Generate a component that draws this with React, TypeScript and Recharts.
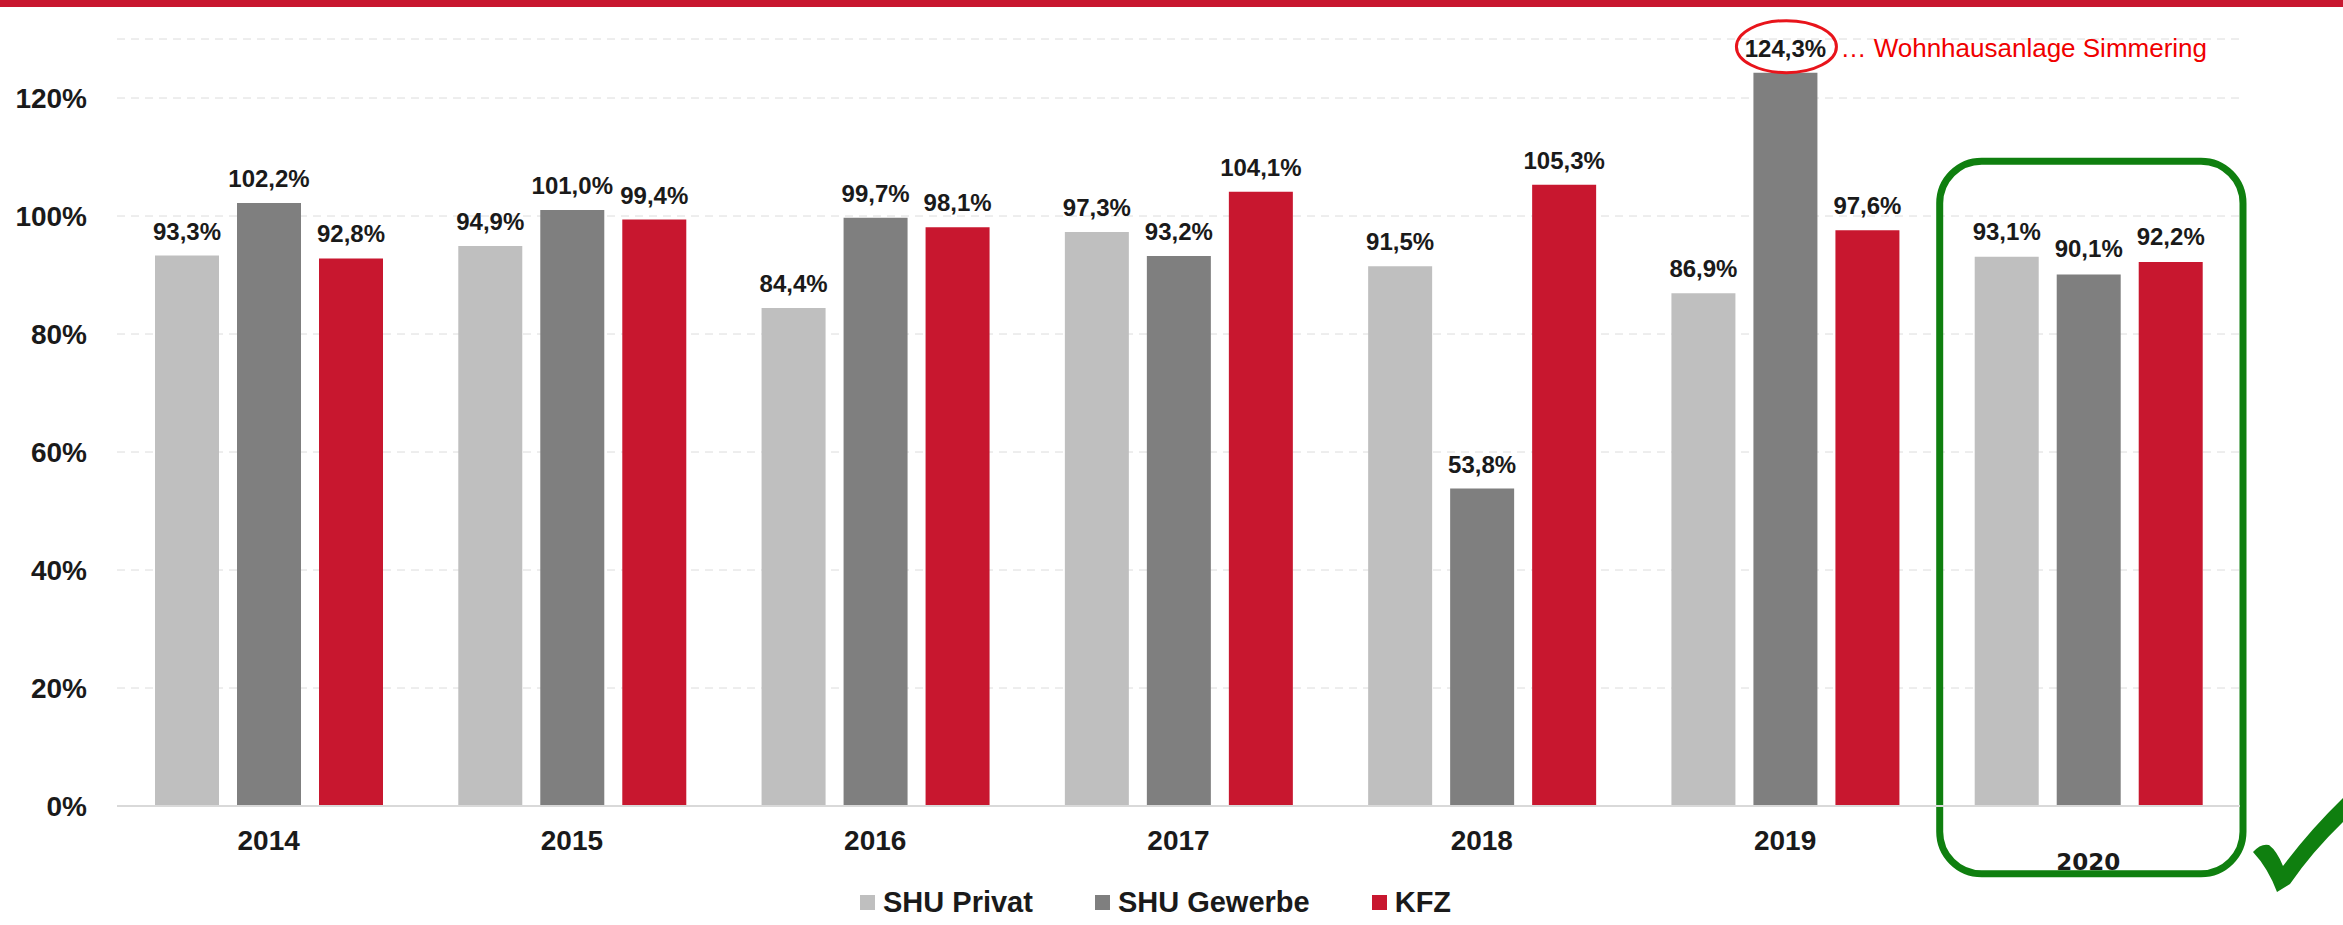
import { BarChart, Bar, XAxis, YAxis, CartesianGrid, Legend, LabelList, ReferenceArea } from "recharts";

const years = ["2014", "2015", "2016", "2017", "2018", "2019", "2020"];
const shuPrivat = [93.3, 94.9, 84.4, 97.3, 91.5, 86.9, 93.1];
const shuGewerbe = [102.2, 101.0, 99.7, 93.2, 53.8, 124.3, 90.1];
const kfz = [92.8, 99.4, 98.1, 104.1, 105.3, 97.6, 92.2];
const yTicks = [0, 20, 40, 60, 80, 100, 120];
const seriesNames = ["SHU Privat", "SHU Gewerbe", "KFZ"];

const highlightYear = "2020";
const noteYear = "2019";
const noteText = "… Wohnhausanlage Simmering";

const chartData = years.map((year, i) => ({
    year,
    privat: shuPrivat[i],
    gewerbe: shuGewerbe[i],
    kfz: kfz[i],
}));

const RED = "#C8172F";
const GREEN = "#0F7F0F";
const TEXT = "#1a1a1a";

// 93.3 -> "93,3%"
function fmt(v: number): string {
    return v.toFixed(1).replace(".", ",") + "%";
}

function makeLabel(key: string) {
    return (props: any) => {
        const { x, y, width, value, index } = props;
        const year = years[index];
        const cx = x + width / 2;
        const hl = year === highlightYear;
        const label = (
            <text
                x={cx}
                y={y - (hl ? 17 : 16)}
                textAnchor="middle"
                fontFamily="Liberation Sans"
                fontWeight="bold"
                fontSize={24}
                fill={TEXT}
            >
                {fmt(value)}
            </text>
        );
        if (key === "gewerbe" && year === noteYear) {
            return (
                <g>
                    <ellipse cx={cx + 1} cy={y - 26} rx={50} ry={26} fill="none" stroke="#E8141B" strokeWidth={3} />
                    {label}
                    <text x={cx + 55} y={y - 16} fontFamily="Liberation Sans" fontSize={26} fill="#F00000">
                        {noteText}
                    </text>
                </g>
            );
        }
        return label;
    };
}

function XTick(props: any) {
    const { x, y, payload } = props;
    const hl = payload.value === highlightYear;
    return (
        <text
            x={x}
            y={y}
            dy={hl ? 56 : 36}
            textAnchor="middle"
            fontFamily={hl ? "DejaVu Sans" : "Liberation Sans"}
            fontWeight="bold"
            fontSize={hl ? 23 : 28}
            fill={TEXT}
        >
            {payload.value}
        </text>
    );
}

function renderLegend(props: any) {
    const items = [...(props.payload || [])].sort(
        (a: any, b: any) => seriesNames.indexOf(a.value) - seriesNames.indexOf(b.value)
    );
    return (
        <div style={{ display: "flex", alignItems: "center", gap: 62, fontFamily: "Liberation Sans", fontWeight: "bold", fontSize: 29, color: TEXT, whiteSpace: "nowrap" }}>
            {items.map((entry: any) => (
                <div key={entry.value} style={{ display: "flex", alignItems: "center" }}>
                    <span style={{ display: "inline-block", width: 15, height: 15, background: entry.color, marginRight: 8 }} />
                    {entry.value}
                </div>
            ))}
        </div>
    );
}

export default function App() {
    return (
        <div style={{ position: "absolute", left: 0, top: 0, width: 2343, height: 925, background: "#fff", overflow: "hidden" }}>
            <div style={{ position: "absolute", left: 0, top: 0, width: 2343, height: 7, background: RED }} />
            <BarChart
                width={2343}
                height={925}
                data={chartData}
                margin={{ top: 39, right: 103, left: 0, bottom: 79 }}
                barSize={64}
                barGap={18}
            >
                <CartesianGrid vertical={false} strokeDasharray="8 6" stroke="#dcdcdc" />
                <XAxis
                    dataKey="year"
                    height={40}
                    tickLine={false}
                    axisLine={{ stroke: "#d9d9d9", strokeWidth: 2 }}
                    tick={<XTick />}
                    interval={0}
                />
                <YAxis
                    width={117}
                    domain={[0, 130]}
                    ticks={yTicks}
                    tickFormatter={(v) => `${v}%`}
                    axisLine={false}
                    tickLine={false}
                    tickMargin={24}
                    tick={{ fontFamily: "Liberation Sans", fontWeight: "bold", fontSize: 28, fill: TEXT }}
                />
                <ReferenceArea
                    x1={highlightYear}
                    x2={highlightYear}
                    y1={-11.5}
                    y2={109.3}
                    ifOverflow="visible"
                    shape={(p: any) => (
                        <rect x={p.x + 3} y={p.y} width={p.width} height={p.height} rx={42} ry={42} fill="none" stroke={GREEN} strokeWidth={7} />
                    )}
                />
                <Legend
                    verticalAlign="middle"
                    align="center"
                    layout="horizontal"
                    content={renderLegend}
                    wrapperStyle={{ top: 886, left: 860, width: "auto" }}
                />
                <Bar dataKey="privat" name={seriesNames[0]} fill="#BFBFBF" isAnimationActive={false}>
                    <LabelList dataKey="privat" content={makeLabel("privat")} />
                </Bar>
                <Bar dataKey="gewerbe" name={seriesNames[1]} fill="#7F7F7F" isAnimationActive={false}>
                    <LabelList dataKey="gewerbe" content={makeLabel("gewerbe")} />
                </Bar>
                <Bar dataKey="kfz" name={seriesNames[2]} fill={RED} isAnimationActive={false}>
                    <LabelList dataKey="kfz" content={makeLabel("kfz")} />
                </Bar>
            </BarChart>
            <svg style={{ position: "absolute", left: 0, top: 0 }} width={2343} height={925}>
                <path
                    d="M2253,852 Q2261,843 2269,845 Q2277,851 2283,866 Q2310,830 2343,798 L2343,822 Q2312,852 2290,884 L2277,892 Q2268,868 2253,852 Z"
                    fill={GREEN}
                />
            </svg>
        </div>
    );
}
